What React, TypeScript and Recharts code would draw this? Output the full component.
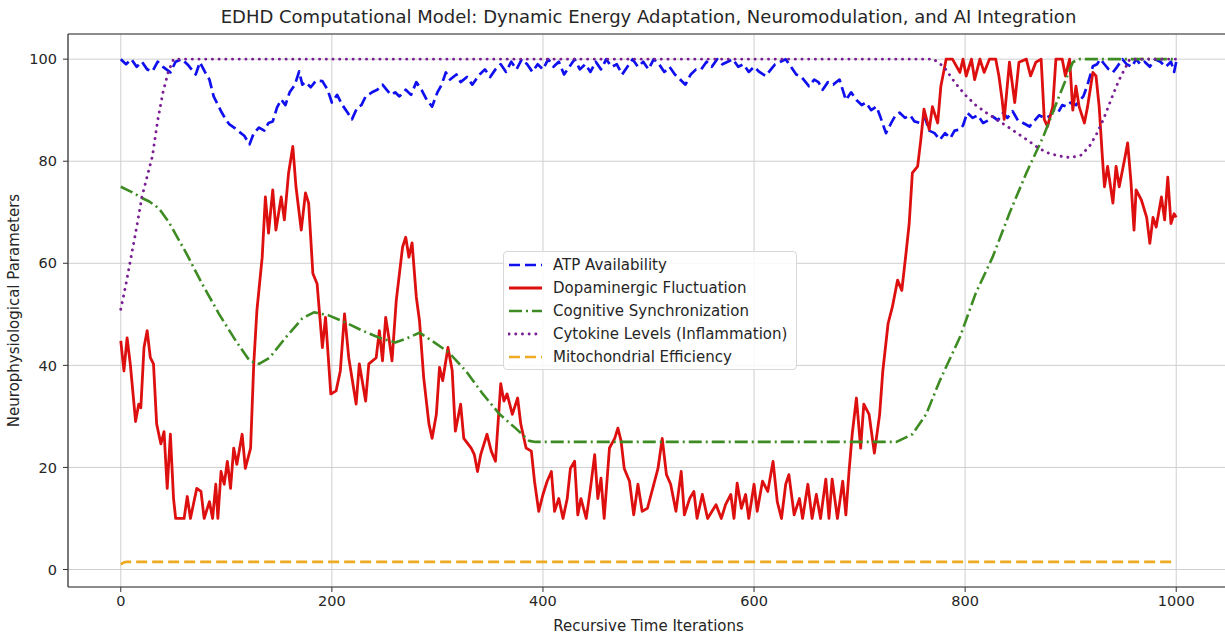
import { LineChart, Line, XAxis, YAxis, CartesianGrid, Legend, ReferenceLine } from "recharts";

// [iteration, value] pairs
const atpPoints: [number, number][] = [
  [0, 100], [5, 99], [10, 100], [15, 98.5], [20, 99.5], [25, 98], [30, 97.6], [35, 99.5], [40, 98.5], [47, 97.4],
  [52, 99.5], [58, 100], [64, 98.8], [71, 97], [75, 99.4], [80, 97.4], [84, 96], [88, 92.7], [95, 89.8], [100, 88],
  [103, 87.2], [108, 86.5], [112, 85.8], [117, 85], [122, 83.3], [126, 85.5], [131, 86.6], [136, 86], [140, 87.5], [144, 87.8],
  [148, 90.5], [152, 92.1], [156, 91], [160, 93.5], [165, 95], [169, 97.6], [172, 95], [175, 95.5], [180, 94.5], [185, 95.8],
  [191, 95.7], [196, 94], [200, 91.5], [205, 93], [210, 91], [215, 89.5], [219, 88.2], [224, 90.5], [228, 91], [232, 92.7],
  [238, 93.5], [243, 94], [248, 95], [252, 94], [256, 93], [260, 93.5], [264, 92.7], [270, 94], [275, 93], [280, 95.5],
  [285, 94], [290, 92], [295, 90.7], [300, 93.5], [304, 95], [308, 97.4], [312, 96], [318, 97], [322, 95.5], [328, 96.5],
  [333, 95], [340, 97], [345, 98], [350, 96.5], [355, 98], [360, 99], [365, 97.5], [370, 99.5], [375, 98], [380, 100],
  [385, 99], [390, 97.5], [395, 99], [400, 98], [405, 100], [410, 98.5], [415, 99.5], [420, 97], [425, 98.5], [430, 100],
  [435, 98], [440, 99], [445, 97.5], [450, 99.5], [455, 98], [460, 100], [465, 98.5], [470, 99], [475, 97], [480, 98.5],
  [485, 100], [490, 98.5], [495, 99.5], [500, 98], [505, 100], [510, 99], [515, 97.5], [520, 98.5], [525, 97], [530, 96],
  [535, 95], [540, 97], [545, 98], [550, 98], [555, 99.5], [560, 98.5], [565, 100], [570, 99], [575, 99.5], [580, 100],
  [585, 98.5], [590, 99], [595, 97.5], [600, 98.5], [605, 97.5], [611, 96.7], [616, 98], [620, 99], [625, 99.5], [630, 100],
  [635, 98.5], [640, 97], [645, 96.5], [652, 94.7], [657, 96], [661, 95.5], [665, 94], [670, 95.5], [675, 95], [681, 96],
  [687, 92], [692, 93.5], [697, 92], [702, 91], [706, 91.5], [711, 90], [716, 90.7], [720, 88.5], [725, 85.5], [730, 87.5],
  [734, 89], [738, 89.5], [743, 88.5], [748, 89], [752, 87.8], [757, 87.5], [762, 88.5], [766, 86], [771, 85.5], [776, 84.2],
  [781, 85.5], [786, 84.5], [790, 86], [795, 86.2], [798, 87], [802, 89.5], [807, 88.5], [812, 89], [817, 87.5], [822, 88],
  [826, 88.8], [831, 88], [836, 89.5], [840, 88.5], [845, 89.8], [850, 88], [855, 87.5], [861, 86.8], [866, 88], [870, 89],
  [875, 88.5], [880, 88.8], [884, 90], [888, 89.5], [892, 91], [896, 90.7], [900, 91.5], [905, 91], [909, 92], [912, 92.7],
  [916, 95], [921, 98.6], [925, 99], [928, 100], [932, 99], [936, 98], [940, 97.4], [944, 98.5], [949, 100], [953, 99],
  [958, 98.5], [962, 100], [966, 99], [970, 99.5], [975, 98.5], [980, 100], [985, 99.5], [990, 98.5], [995, 99.5], [998, 97.5],
  [1000, 99.5],
];

const dopaminePoints: [number, number][] = [
  [0, 44.8], [3, 38.9], [6, 45.4], [9, 40.3], [12, 33.6], [14, 29], [17, 32.4], [19, 31.7], [22, 43.5], [25, 46.8],
  [28, 41.5], [31, 40.3], [34, 28.5], [38, 24.6], [41, 27], [44, 15.9], [47, 26.5], [50, 13.9], [52, 10], [60, 10],
  [63, 14.3], [66, 10], [72, 15.9], [76, 15.3], [79, 10], [84, 13.3], [87, 10], [90, 16.7], [92, 10], [95, 19.2],
  [98, 16.7], [101, 21.2], [104, 15.9], [107, 23.8], [110, 20.6], [115, 26.5], [118, 19.8], [123, 23.8], [126, 40.3], [129, 50.8],
  [134, 61.2], [137, 73], [140, 65.9], [144, 74.4], [147, 66.5], [152, 73], [155, 68.5], [159, 77.7], [163, 82.9], [166, 75],
  [171, 66.5], [175, 73.8], [178, 71.8], [182, 58], [186, 56], [191, 43.5], [194, 49.4], [199, 34.4], [204, 35], [208, 38.9],
  [212, 50.1], [216, 41.5], [223, 32.4], [226, 40.3], [232, 33], [235, 40.3], [242, 41.5], [245, 46.8], [248, 40.9], [251, 49.4],
  [254, 45.4], [257, 40.9], [261, 52.7], [267, 63.2], [270, 65.1], [273, 61.2], [276, 64], [280, 53.4], [283, 48.8], [287, 37.6],
  [292, 28.5], [295, 25.7], [299, 30.4], [302, 39.6], [305, 37], [310, 43.5], [314, 39], [317, 27.1], [322, 32.4], [325, 25.7],
  [332, 23.8], [335, 22.5], [338, 19.2], [341, 22.5], [347, 26.5], [351, 23.2], [355, 21.2], [360, 36.4], [363, 33], [366, 34.4],
  [371, 30.4], [376, 33.6], [379, 28.5], [384, 23.8], [389, 23.2], [392, 17.3], [396, 11.4], [400, 14.7], [404, 17.3], [408, 19.2],
  [411, 11.4], [415, 13.9], [419, 10], [423, 13.9], [426, 19.8], [430, 21.2], [433, 10.7], [436, 13.9], [441, 10], [445, 15.9],
  [449, 22.5], [452, 13.9], [455, 17.9], [458, 10], [463, 23.8], [468, 25.7], [471, 27.7], [474, 25.2], [477, 19.8], [482, 17.3],
  [486, 10.7], [490, 16.7], [494, 11.4], [499, 12], [504, 15.9], [509, 19.8], [513, 25.7], [517, 18.6], [521, 16.7], [526, 11.4],
  [531, 19.2], [534, 10.7], [539, 13.9], [543, 15.3], [546, 10], [551, 14.7], [556, 10], [564, 12.7], [569, 10], [573, 12.7],
  [578, 14.7], [581, 10], [584, 16.9], [588, 12], [592, 14.7], [595, 10], [600, 16.7], [603, 11.4], [608, 17.3], [613, 15.3],
  [618, 21.2], [622, 13.3], [626, 10], [630, 16.7], [633, 18.6], [638, 10.7], [643, 13.9], [646, 10], [651, 16.7], [655, 10],
  [659, 14.7], [663, 10], [668, 17.7], [671, 10], [674, 17.7], [679, 10], [684, 17.3], [687, 10.7], [690, 19.2], [693, 26.5],
  [697, 33.6], [701, 23.8], [704, 32.4], [709, 30.4], [714, 22.8], [719, 30.4], [722, 38.9], [727, 48.2], [731, 51.4], [736, 56.7],
  [740, 54.7], [744, 62], [747, 67.8], [750, 77.7], [755, 79], [758, 84.2], [761, 90.2], [766, 86.2], [769, 90.7], [774, 87.5],
  [777, 94.7], [782, 100], [788, 100], [795, 97.4], [798, 100], [801, 96.7], [806, 100], [809, 96], [814, 100], [818, 97.4],
  [823, 100], [829, 100], [832, 96.7], [835, 92.1], [837, 88.2], [842, 99.4], [847, 91.5], [851, 99.4], [858, 100], [862, 96.7],
  [867, 99.4], [872, 100], [875, 88.2], [878, 86.8], [883, 90.7], [886, 100], [892, 100], [895, 96.7], [899, 100], [902, 90],
  [905, 94.7], [908, 90.7], [913, 87.5], [916, 90.7], [921, 97.4], [924, 96.7], [927, 90.7], [930, 80.9], [932, 75], [935, 79],
  [940, 71.8], [943, 79], [946, 75], [951, 80.3], [954, 83.6], [957, 76.3], [960, 66.5], [962, 74.4], [967, 72.4], [972, 69],
  [975, 63.9], [978, 69], [981, 67.1], [986, 73], [989, 68.5], [992, 76.9], [995, 67.8], [998, 69.7], [1000, 69],
];

const cognitivePoints: [number, number][] = [
  [0, 75], [10, 74], [20, 72.8], [27, 72.1], [36, 70.8], [46, 67.9], [62, 62], [77, 56], [93, 50.1], [109, 44.8],
  [122, 40.9], [131, 40.3], [141, 41.5], [156, 45.4], [172, 49.2], [183, 50.4], [197, 49.8], [213, 48.4], [229, 46.8], [245, 45.4],
  [260, 44.5], [270, 45.2], [283, 46.4], [295, 44.8], [311, 42.5], [327, 38.9], [343, 34.4], [359, 30.4], [374, 27.7], [387, 25.2],
  [393, 25], [735, 25], [750, 26.5], [763, 30.4], [776, 37], [795, 45.5], [810, 54.1], [826, 61.2], [842, 69.8], [858, 77.7],
  [874, 84.8], [889, 92.7], [902, 99.4], [908, 100], [1000, 100],
];

const cytokinePoints: [number, number][] = [
  [0, 51], [5, 56], [10, 61.5], [15, 67], [20, 73], [25, 77], [30, 81], [35, 88], [40, 93.5], [45, 97.5],
  [50, 100], [770, 100], [780, 98.5], [790, 95.5], [800, 93], [810, 91], [820, 89.5], [840, 86.8], [860, 84], [870, 82.5],
  [880, 81.5], [890, 81], [900, 80.7], [910, 81.2], [918, 83], [925, 85.5], [931, 88.2], [940, 93], [946, 96], [956, 100],
  [1000, 100],
];

const mitoPoints: [number, number][] = [[0, 1], [3, 1.4], [6, 1.5], [1000, 1.5]];

const xTicks = [0, 200, 400, 600, 800, 1000];
const yTicks = [0, 20, 40, 60, 80, 100];

const toRows = (pts: [number, number][]) => pts.map(([x, y]) => ({ x, y }));

const SERIES = [
  { name: "ATP Availability", data: toRows(atpPoints), color: "#1010ee", width: 2.7, dash: "11 5", cap: "butt" as const },
  { name: "Dopaminergic Fluctuation", data: toRows(dopaminePoints), color: "#dd0f0f", width: 2.8, dash: undefined, cap: "butt" as const },
  { name: "Cognitive Synchronization", data: toRows(cognitivePoints), color: "#3d8b22", width: 2.6, dash: "13 4 2 4", cap: "butt" as const },
  { name: "Cytokine Levels (Inflammation)", data: toRows(cytokinePoints), color: "#7a1e94", width: 2.9, dash: "0.1 6.6", cap: "round" as const },
  { name: "Mitochondrial Efficiency", data: toRows(mitoPoints), color: "#eeaa22", width: 2.6, dash: "11 5", cap: "butt" as const },
];

const FONT = "'DejaVu Sans', sans-serif";
const TEXT = "#262626";

function LegendBox() {
  return (
    <div style={{
      background: "rgba(255,255,255,0.85)", border: "1px solid #d8d8d8", borderRadius: 4,
      padding: "1px 4px 2px 4px", fontFamily: FONT, fontSize: 15, color: TEXT, boxSizing: "border-box",
      width: 294, height: 119, overflow: "hidden",
    }}>
      {SERIES.map(s => (
        <div key={s.name} style={{ display: "flex", alignItems: "center", height: 23 }}>
          <svg width={36} height={10} style={{ flex: "none" }}>
            <line x1={1} x2={34} y1={5} y2={5} stroke={s.color} strokeWidth={s.width}
              strokeDasharray={s.dash} strokeLinecap={s.cap} />
          </svg>
          <span style={{ marginLeft: 9, whiteSpace: "nowrap" }}>{s.name}</span>
        </div>
      ))}
    </div>
  );
}

export default function App() {
  return (
    <div style={{ position: "fixed", left: 0, top: 0, width: 1225, height: 634, overflow: "hidden", background: "#fff" }}>
      <div style={{
        position: "absolute", left: 0, top: 6, width: 1297, textAlign: "center",
        fontFamily: FONT, fontSize: 18, color: TEXT, zIndex: 2,
      }}>
        EDHD Computational Model: Dynamic Energy Adaptation, Neuromodulation, and AI Integration
      </div>
      <LineChart width={1240} height={634} margin={{ top: 34, right: 11, bottom: 0, left: 0 }}>
        <CartesianGrid stroke="#cfcfcf" strokeWidth={1} />
        <XAxis
          dataKey="x" type="number" domain={[-50, 1050]} ticks={xTicks} allowDataOverflow
          height={47} tickSize={5} tickMargin={4} interval={0}
          axisLine={{ stroke: "#333", strokeWidth: 1.2 }} tickLine={{ stroke: "#333" }}
          tick={{ fill: TEXT, fontSize: 14.5, fontFamily: FONT }}
          label={{ value: "Recursive Time Iterations", position: "insideBottom", offset: 3, style: { fill: TEXT, fontSize: 15, fontFamily: FONT } }}
        />
        <YAxis
          type="number" domain={[-3.43, 104.93]} ticks={yTicks} allowDataOverflow
          width={68} tickSize={5} tickMargin={6} interval={0}
          axisLine={{ stroke: "#333", strokeWidth: 1.2 }} tickLine={{ stroke: "#333" }}
          tick={{ fill: TEXT, fontSize: 14.5, fontFamily: FONT }}
          label={{ value: "Neurophysiological Parameters", angle: -90, position: "insideLeft", offset: 14, style: { fill: TEXT, fontSize: 15, fontFamily: FONT, textAnchor: "middle" } }}
        />
        <ReferenceLine y={104.93} stroke="#333" strokeWidth={1.2} ifOverflow="visible" />
        {SERIES.map(s => (
          <Line
            key={s.name} data={s.data} dataKey="y" name={s.name} type="linear"
            stroke={s.color} strokeWidth={s.width} strokeDasharray={s.dash} strokeLinecap={s.cap}
            strokeLinejoin="round" dot={false} activeDot={false} isAnimationActive={false}
          />
        ))}
        <Legend
          content={<LegendBox />} layout="vertical" align="center" verticalAlign="middle"
          wrapperStyle={{ left: 503, top: 251, width: 294, height: 119 }}
        />
      </LineChart>
    </div>
  );
}
